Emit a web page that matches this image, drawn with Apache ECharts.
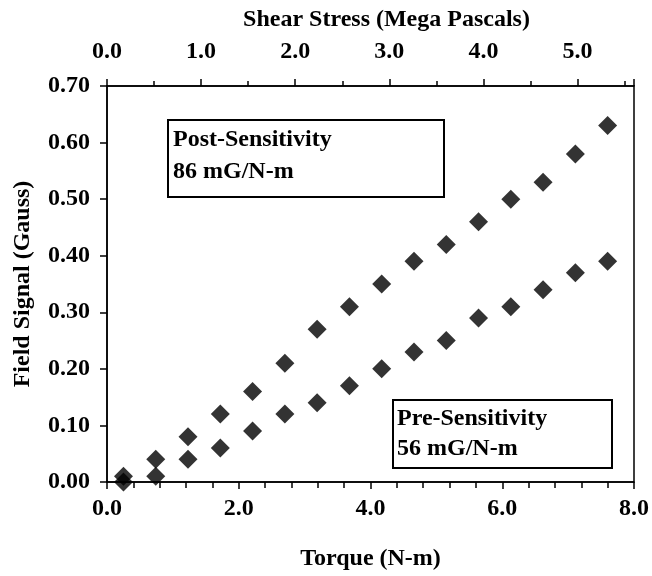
<!DOCTYPE html>
<html>
<head>
<meta charset="utf-8">
<title>Field Signal vs Torque</title>
<script src="https://cdn.jsdelivr.net/npm/echarts@6/dist/echarts.min.js"></script>
<style>
  html, body { margin: 0; padding: 0; background: #fff; }
  #chart { width: 652px; height: 576px; }
</style>
</head>
<body>
<div id="chart"></div>
<script>
// torque applied (N-m)
var torque = [0.25, 0.74, 1.23, 1.72, 2.21, 2.70, 3.19, 3.68, 4.17, 4.66, 5.15, 5.64, 6.13, 6.62, 7.11, 7.60]
// field signal (Gauss)
var postSensitivity = [0.01, 0.04, 0.08, 0.12, 0.16, 0.21, 0.27, 0.31, 0.35, 0.39, 0.42, 0.46, 0.50, 0.53, 0.58, 0.63]
var preSensitivity = [0.00, 0.01, 0.04, 0.06, 0.09, 0.12, 0.14, 0.17, 0.20, 0.23, 0.25, 0.29, 0.31, 0.34, 0.37, 0.39]
var boxText = ['Post-Sensitivity\n86 mG/N-m', 'Pre-Sensitivity\n56 mG/N-m']

var serif = '"Liberation Serif", "Times New Roman", serif'

function pairs(xs, ys) {
  return xs.map(function (x, i) { return [x, ys[i]] })
}

var chart = echarts.init(document.getElementById('chart'))

var labelStyle = {
  color: '#000',
  fontFamily: serif,
  fontWeight: 'bold',
  fontSize: 24
}
var nameStyle = {
  color: '#000',
  fontFamily: serif,
  fontWeight: 'bold',
  fontSize: 24
}
var black = { color: '#000', width: 1.5 }

chart.setOption({
  animation: false,
  grid: {
    left: 107,
    right: 17,
    top: 86,
    bottom: 91,
    show: true,
    borderColor: '#000',
    borderWidth: 1.5
  },
  xAxis: [{
    type: 'value',
    position: 'bottom',
    min: 0,
    max: 8,
    interval: 2,
    name: 'Torque (N-m)',
    nameLocation: 'middle',
    nameGap: 65,
    nameTextStyle: nameStyle,
    axisLine: { lineStyle: black },
    axisTick: { length: 7, lineStyle: black },
    minorTick: { show: true, splitNumber: 5, length: 6, lineStyle: black },
    splitLine: { show: false },
    axisLabel: Object.assign({ margin: 15, formatter: function (v) { return v.toFixed(1) } }, labelStyle)
  }, {
    // shear stress scale on top
    type: 'value',
    position: 'top',
    min: 0,
    max: 5.6,
    interval: 1,
    name: 'Shear Stress (Mega Pascals)',
    nameLocation: 'middle',
    nameGap: 54,
    nameTextStyle: Object.assign({ padding: [0, 0, 0, 32] }, nameStyle),
    axisLine: { lineStyle: black },
    axisTick: { length: 7, lineStyle: black },
    minorTick: { show: true, splitNumber: 2, length: 5, lineStyle: black },
    splitLine: { show: false },
    axisLabel: Object.assign({
      margin: 22,
      formatter: function (v) { return Math.abs(v - Math.round(v)) < 1e-6 ? v.toFixed(1) : '' }
    }, labelStyle)
  }],
  yAxis: [{
    type: 'value',
    min: 0,
    max: 0.7,
    interval: 0.1,
    name: 'Field Signal (Gauss)',
    nameLocation: 'middle',
    nameGap: 72,
    nameTextStyle: nameStyle,
    axisLine: { lineStyle: black },
    axisTick: { length: 7, lineStyle: black },
    splitLine: { show: false },
    axisLabel: Object.assign({ margin: 17, formatter: function (v) { return v.toFixed(2) } }, labelStyle)
  }],
  series: [
    {
      name: 'Post-Sensitivity',
      type: 'scatter',
      symbol: 'diamond',
      symbolSize: 19,
      itemStyle: { color: '#000' },
      data: pairs(torque, postSensitivity)
    },
    {
      name: 'Pre-Sensitivity',
      type: 'scatter',
      symbol: 'diamond',
      symbolSize: 19,
      itemStyle: { color: '#000' },
      data: pairs(torque, preSensitivity)
    }
  ],
  graphic: [
    {
      type: 'group',
      left: 167,
      top: 119,
      children: [
        { type: 'rect', shape: { x: 0, y: 0, width: 276, height: 77 }, style: { fill: '#fff', stroke: '#000', lineWidth: 2 } },
        { type: 'text', x: 5, y: 4, style: { text: boxText[0], fill: '#000', font: 'bold 24px ' + serif, lineHeight: 32 } }
      ]
    },
    {
      type: 'group',
      left: 392,
      top: 399,
      children: [
        { type: 'rect', shape: { x: 0, y: 0, width: 219, height: 68 }, style: { fill: '#fff', stroke: '#000', lineWidth: 2 } },
        { type: 'text', x: 4, y: 4, style: { text: boxText[1], fill: '#000', font: 'bold 24px ' + serif, lineHeight: 30 } }
      ]
    }
  ]
})
</script>
</body>
</html>
